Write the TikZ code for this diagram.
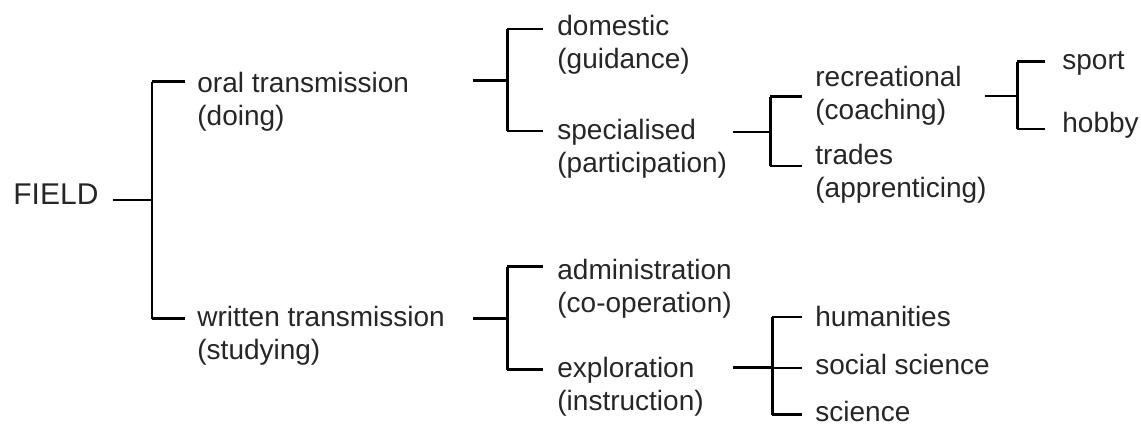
\documentclass[tikz,border=0pt]{standalone}
\usepackage{fontspec}
\setmainfont{Liberation Sans}
\usetikzlibrary{calc}

\tikzset{
    lbl/.style={anchor=base west, inner sep=0pt, align=left, text=black!85,
        font=\fontsize{14}{16.5}\selectfont},
    thinline/.style={line width=0.6pt},
    midline/.style={line width=1pt},
    boldline/.style={line width=1.5pt}
}

\begin{document}
\begin{tikzpicture}[x=0.5pt, y=-0.5pt]
        \useasboundingbox (0,0) rectangle (1141,426);
        % labels (two-line labels sit on the baseline of their second line)
        \node[lbl, font=\fontsize{15}{16.5}\selectfont] (field) at (13,205) {FIELD};
        \node[lbl] (oral) at (197,126) {oral transmission\\(doing)};
        \node[lbl] (written) at (197,360) {written transmission\\(studying)};
        \node[lbl] (domestic) at (557,69) {domestic\\(guidance)};
        \node[lbl] (special) at (557,173) {specialised\\(participation)};
        \node[lbl] (admin) at (557,313) {administration\\(co-operation)};
        \node[lbl] (explor) at (557,411) {exploration\\(instruction)};
        \node[lbl] (recreat) at (815,120) {recreational\\(coaching)};
        \node[lbl] (trades) at (815,198) {trades\\(apprenticing)};
        \node[lbl] (sport) at (1062,70) {sport};
        \node[lbl] (hobby) at (1062,133) {hobby};
        \node[lbl] (human) at (815,327) {humanities};
        \node[lbl] (socsci) at (815,375) {social science};
        \node[lbl] (science) at (815,422) {science};

        % connector ends
        \coordinate (field-r) at (113,200);
        \coordinate (j-field) at (152,200);
        \coordinate (oral-l) at (185,82);
        \coordinate (written-l) at (185,319);
        \coordinate (oral-r) at (473,81);
        \coordinate (j-oral) at (507,81);
        \coordinate (domestic-l) at (543,29);
        \coordinate (special-l) at (543,131);
        \coordinate (written-r) at (473,319);
        \coordinate (j-written) at (507,319);
        \coordinate (admin-l) at (543,267);
        \coordinate (explor-l) at (543,370);
        \coordinate (special-r) at (733,132);
        \coordinate (j-special) at (770,132);
        \coordinate (recreat-l) at (802,97);
        \coordinate (trades-l) at (802,166);
        \coordinate (recreat-r) at (985,96);
        \coordinate (j-recreat) at (1017,96);
        \coordinate (sport-l) at (1045,62);
        \coordinate (hobby-l) at (1045,129);
        \coordinate (explor-r) at (733,368);
        \coordinate (j-explor) at (772,368);
        \coordinate (human-l) at (802,317);
        \coordinate (socsci-l) at (802,368);
        \coordinate (science-l) at (802,415);

        % FIELD
        \draw[thinline] (field-r) -- (j-field);
        \draw[midline] (j-field |- oral-l) -- (j-field |- written-l);
        \draw[boldline] (j-field |- oral-l) -- (oral-l);
        \draw[boldline] (j-field |- written-l) -- (written-l);
        % oral transmission
        \draw[boldline] (oral-r) -- (j-oral);
        \draw[boldline] (j-oral |- domestic-l) -- (j-oral |- special-l);
        \draw[midline] (j-oral |- domestic-l) -- (domestic-l);
        \draw[midline] (j-oral |- special-l) -- (special-l);
        % written transmission
        \draw[boldline] (written-r) -- (j-written);
        \draw[boldline] (j-written |- admin-l) -- (j-written |- explor-l);
        \draw[boldline] (j-written |- admin-l) -- (admin-l);
        \draw[boldline] (j-written |- explor-l) -- (explor-l);
        % specialised
        \draw[thinline] (special-r) -- (j-special);
        \draw[boldline] (j-special |- recreat-l) -- (j-special |- trades-l);
        \draw[boldline] (j-special |- recreat-l) -- (recreat-l);
        \draw[midline] (j-special |- trades-l) -- (trades-l);
        % recreational
        \draw[thinline] (recreat-r) -- (j-recreat);
        \draw[boldline] (j-recreat |- sport-l) -- (j-recreat |- hobby-l);
        \draw[boldline] (j-recreat |- sport-l) -- (sport-l);
        \draw[midline] (j-recreat |- hobby-l) -- (hobby-l);
        % exploration
        \draw[boldline] (explor-r) -- (j-explor);
        \draw[boldline] (j-explor |- human-l) -- (j-explor |- science-l);
        \foreach \n in {human, socsci}
            \draw[thinline] (j-explor |- \n-l) -- (\n-l);
        \draw[boldline] (j-explor |- science-l) -- (science-l);
\end{tikzpicture}
\end{document}
